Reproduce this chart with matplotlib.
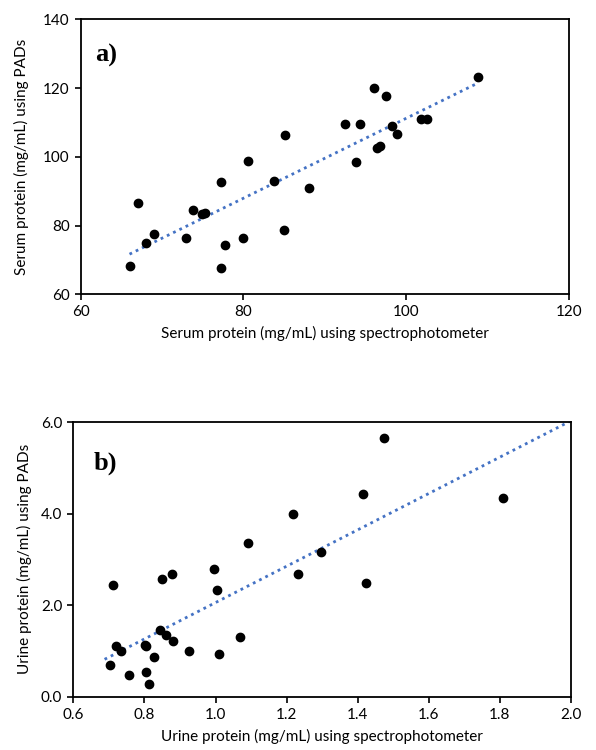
import numpy as np
import matplotlib
matplotlib.use("Agg")
import matplotlib.pyplot as plt

# Panel a: serum protein (mg/mL)
serum_spec = [66.0, 67.0, 68.0, 69.0, 73.0, 73.8, 74.9, 75.3, 77.2, 77.7, 77.2, 79.9,
              80.5, 83.8, 85.1, 85.0, 88.0, 92.5, 93.8, 94.3, 96.1, 96.4, 96.8, 97.5,
              98.2, 98.9, 101.8, 102.5, 108.8]
serum_pads = [68.1, 86.7, 74.8, 77.5, 76.3, 84.6, 83.3, 83.7, 92.7, 74.4, 67.7, 76.3,
              98.8, 93.0, 106.3, 78.7, 90.8, 109.5, 98.5, 109.5, 120.1, 102.7, 103.1, 117.7,
              109.1, 106.6, 111.0, 111.0, 123.1]

# Panel b: urine protein (mg/mL)
urine_spec = [0.703, 0.713, 0.720, 0.733, 0.756, 0.801, 0.805, 0.804, 0.812, 0.827,
              0.843, 0.850, 0.861, 0.877, 0.881, 0.926, 0.995, 1.004, 1.011, 1.070,
              1.092, 1.217, 1.231, 1.297, 1.415, 1.422, 1.473, 1.808]
urine_pads = [0.70, 2.43, 1.11, 1.00, 0.47, 1.14, 1.11, 0.55, 0.28, 0.87,
              1.46, 2.56, 1.35, 2.67, 1.22, 0.99, 2.79, 2.32, 0.93, 1.30,
              3.35, 4.00, 2.69, 3.15, 4.42, 2.49, 5.64, 4.35]

serum_xticks = [60, 80, 100, 120]
serum_yticks = [60, 80, 100, 120, 140]
urine_xticks = [0.6, 0.8, 1.0, 1.2, 1.4, 1.6, 1.8, 2.0]
urine_yticks = [0.0, 2.0, 4.0, 6.0]

plt.rcParams['font.family'] = ['Lato', 'DejaVu Sans']

W, H = 596, 750
fig = plt.figure(figsize=(W / 100, H / 100), dpi=100)

def ax_at(l, r, t, b):
    return fig.add_axes([l / W, 1 - b / H, (r - l) / W, (b - t) / H])

trend_color = '#4472C4'
FS = 11

def style(ax):
    for s in ax.spines.values():
        s.set_linewidth(1.3)
        s.set_color('black')
    ax.tick_params(direction='out', length=4, width=1.2, labelsize=FS, pad=4)

# Panel a
ax1 = ax_at(80.7, 569, 19.3, 294.3)
xa = np.array(serum_spec); ya = np.array(serum_pads)
m, c = np.polyfit(xa, ya, 1)
xl = np.array([xa.min(), xa.max()])
ax1.plot(xl, m * xl + c, linestyle=(0, (1, 1.5)), color=trend_color, lw=2.0, zorder=2)
ax1.scatter(xa, ya, s=36, color='black', zorder=3)
ax1.set_xlim(60, 120); ax1.set_ylim(60, 140)
ax1.set_xticks(serum_xticks); ax1.set_yticks(serum_yticks)
ax1.set_xlabel('Serum protein (mg/mL) using spectrophotometer', fontsize=FS, labelpad=5)
ax1.set_ylabel('Serum protein (mg/mL) using PADs', fontsize=FS, labelpad=10)
ax1.text(0.03, 0.87, 'a)', transform=ax1.transAxes, fontsize=19, fontweight='bold',
         family='Liberation Serif', va='center', ha='left')
style(ax1)

# Panel b
ax2 = ax_at(73.3, 571, 422, 696.7)
xb = np.array(urine_spec); yb = np.array(urine_pads)
m2, c2 = np.polyfit(xb, yb, 1)
xl2 = np.array([xb.min() - 0.015, 2.0])
ax2.plot(xl2, m2 * xl2 + c2, linestyle=(0, (1, 1.5)), color=trend_color, lw=2.0, zorder=2)
ax2.scatter(xb, yb, s=36, color='black', zorder=3)
ax2.set_xlim(0.6, 2.0); ax2.set_ylim(0, 6.0)
ax2.set_xticks(urine_xticks); ax2.set_yticks(urine_yticks)
ax2.set_xticklabels([f'{v:.1f}' for v in urine_xticks])
ax2.set_yticklabels([f'{v:.1f}' for v in urine_yticks])
ax2.set_xlabel('Urine protein (mg/mL) using spectrophotometer', fontsize=FS, labelpad=5)
ax2.set_ylabel('Urine protein (mg/mL) using PADs', fontsize=FS, labelpad=6)
ax2.text(0.04, 0.85, 'b)', transform=ax2.transAxes, fontsize=19, fontweight='bold',
         family='Liberation Serif', va='center', ha='left')
style(ax2)

fig.savefig('out.png', dpi=100)
